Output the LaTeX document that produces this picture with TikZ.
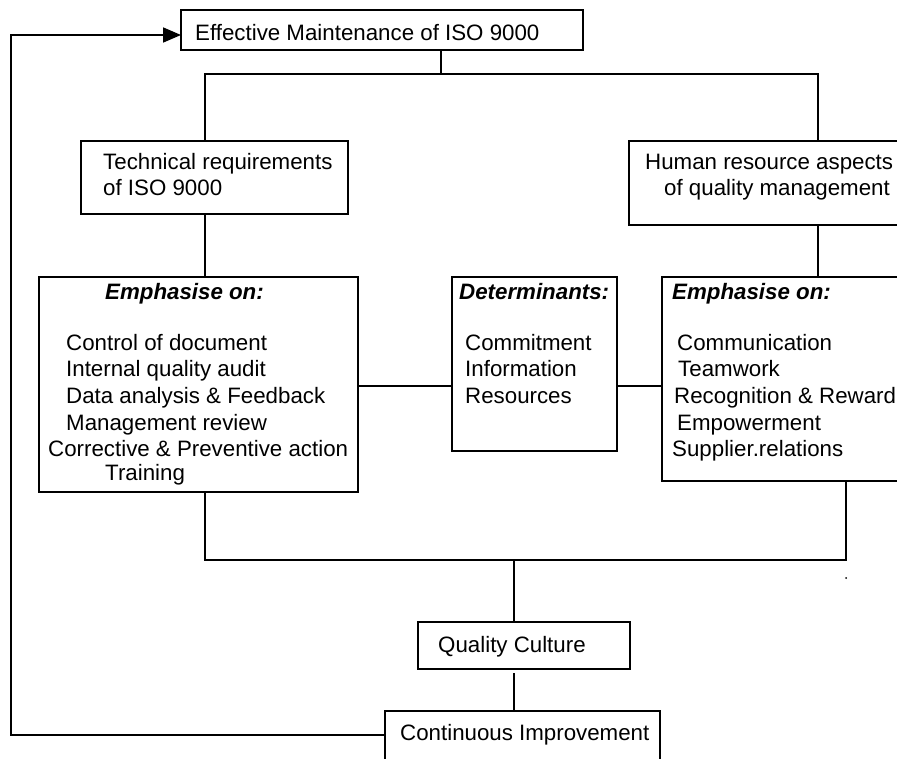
\documentclass[tikz,border=0pt]{standalone}
\usepackage{fontspec}
\setmainfont{Liberation Sans}
\usetikzlibrary{arrows.meta}

\begin{document}
\begin{tikzpicture}[x=1pt,y=-1pt,
  box/.style={draw, line width=1.8pt, rectangle, inner sep=0pt, outer sep=0pt, anchor=north west},
  txt/.style={anchor=base west, inner sep=0pt, font=\fontsize{22.3}{26}\selectfont},
  link/.style={line width=1.8pt},
  feedback/.style={line width=1.8pt, -{Triangle[length=18pt,width=15pt]}}]

\useasboundingbox (0,0) rectangle (897,759);
\clip (0,0) rectangle (897,759);
\fill[white] (0,0) rectangle (897,759);

% boxes
\node[box, minimum width=402pt, minimum height=40pt] (top)   at (181,10)  {};
\node[box, minimum width=267pt, minimum height=73pt] (tech)  at (81,141)  {};
\node[box, minimum width=280pt, minimum height=84pt] (hr)    at (629,141) {};
\node[box, minimum width=319pt, minimum height=215pt] (lemph) at (39,277)  {};
\node[box, minimum width=165pt, minimum height=174pt] (det)   at (452,277) {};
\node[box, minimum width=250pt, minimum height=204pt] (remph) at (662,277) {};
\node[box, minimum width=212pt, minimum height=47pt] (qc)    at (418,622) {};
\node[box, minimum width=275pt, minimum height=70pt] (ci)    at (385,711) {};

% texts
\node[txt] (ttop) at (195,41) {Effective Maintenance of ISO 9000};
\node[txt] (ttech1) at (103,170) {Technical requirements};
\node[txt] (ttech2) at (103,196) {of ISO 9000};
\node[txt] (thr1) at (645,170) {Human resource aspects};
\node[txt] (thr2) at (664,196) {of quality management};

\node[txt] (lhead) at (105,300) {\textbf{\textit{Emphasise on:}}};
\node[txt] (l1) at (66,351) {Control of document};
\node[txt] (l2) at (66,377) {Internal quality audit};
\node[txt] (l3) at (66,403) {Data analysis \& Feedback};
\node[txt] (l4) at (66,430) {Management review};
\node[txt] (l5) at (48,456) {Corrective \& Preventive action};
\node[txt] (l6) at (105,480) {Training};

\node[txt] (dhead) at (459,300) {\textbf{\textit{Determinants:}}};
\node[txt] (d1) at (465,351) {Commitment};
\node[txt] (d2) at (465,377) {Information};
\node[txt] (d3) at (465,403) {Resources};

\node[txt] (rhead) at (672,300) {\textbf{\textit{Emphasise on:}}};
\node[txt] (r1) at (677,351) {Communication};
\node[txt] (r2) at (678,377) {Teamwork};
\node[txt] (r3) at (674,403) {Recognition \& Reward};
\node[txt] (r4) at (677,430) {Empowerment};
\node[txt] (r5) at (672,456) {Supplier.relations};

\node[txt] (tqc) at (438,652) {Quality Culture};
\node[txt] (tci) at (400,740) {Continuous Improvement};

% junction points
\coordinate (tm) at (441,74);
\coordinate (tl) at (205,74);
\coordinate (tr) at (818,74);
\coordinate (my) at (0,386);
\coordinate (bl) at (205,560);
\coordinate (br) at (846,560);
\coordinate (bm) at (514,560);
\coordinate (fbtop) at (11,35);
\coordinate (fbbot) at (11,735);

% connectors
\draw[link] (top.south -| tm) -- (tm);
\draw[link] (tech.north -| tl) -- (tl) -- (tr) -- (hr.north -| tr);
\draw[link] (tech.south -| tl) -- (lemph.north -| tl);
\draw[link] (hr.south -| tr) -- (remph.north -| tr);
\draw[link] (lemph.east |- my) -- (det.west |- my);
\draw[link] (det.east |- my) -- (remph.west |- my);
\draw[link] (lemph.south -| bl) -- (bl) -- (br) -- (remph.south -| br);
\draw[link] (bm) -- (qc.north -| bm);
\draw[line width=1.5pt] ([yshift=-4pt]qc.south -| bm) -- (ci.north -| bm);
\draw[feedback] (ci.west |- fbbot) -- (fbbot) -- (fbtop) -- (top.west |- fbtop);

% stray mark
\fill (846,578) circle (1pt);

\end{tikzpicture}
\end{document}
